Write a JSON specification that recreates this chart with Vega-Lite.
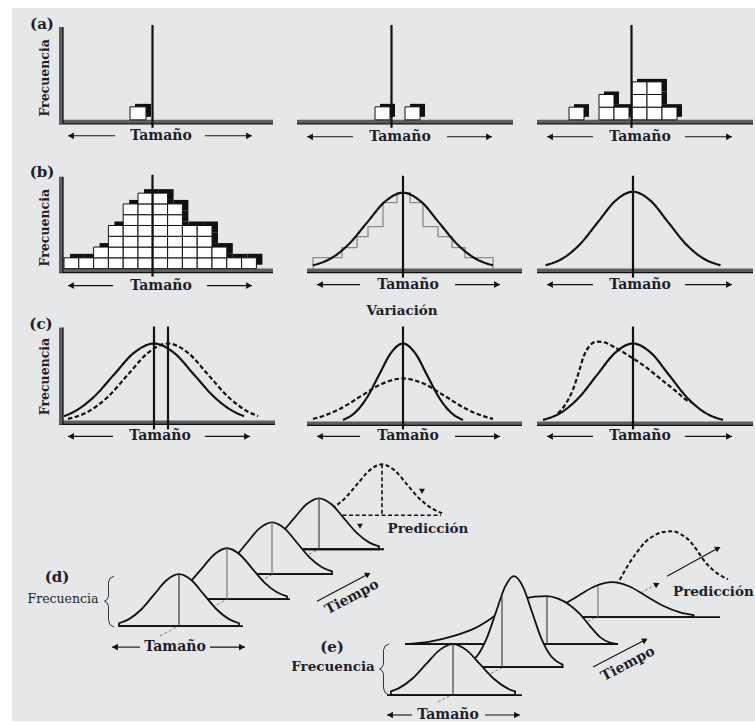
{
"$schema": "https://vega.github.io/schema/vega-lite/v6.json",
"width": 755, "height": 722, "padding": 0,
"autosize": {"type": "fit", "contains": "padding"},
"background": "white",
"config": {"view": {"stroke": null}},
"datasets": {
"bg": [{"x": 12, "y": 8, "x2": 755, "y2": 722}],
"slabs": [{"x":59,"x2":273,"y":122},{"x":297,"x2":513,"y":122},{"x":537,"x2":753,"y":122},
 {"x":59,"x2":273,"y":271},{"x":307,"x2":522,"y":271},{"x":537,"x2":753,"y":271},
 {"x":59,"x2":275,"y":423},{"x":307,"x2":522,"y":424},{"x":537,"x2":753,"y":424}],
"ybars": [{"x":61,"y":27,"y2":124},{"x":61,"y":177,"y2":273},{"x":61,"y":328,"y2":425}],
"centers": [{"x":152.5,"y":25,"y2":128},{"x":391.5,"y":25,"y2":128},{"x":631.5,"y":25,"y2":128},
 {"x":152.5,"y":175,"y2":277},{"x":403,"y":176,"y2":278},{"x":633,"y":176,"y2":278},
 {"x":154,"y":327,"y2":430},{"x":168,"y":327,"y2":430},{"x":403,"y":327,"y2":430},{"x":633,"y":327,"y2":430}],
"cellsA": [{"x":130,"x2":146,"y":107,"y2":120},
 {"x":375,"x2":390,"y":107,"y2":120},{"x":405,"x2":420,"y":107,"y2":120},
 {"x":569,"x2":584,"y":107.3,"y2":120},
 {"x":599,"x2":614,"y":107.3,"y2":120},{"x":599,"x2":614,"y":94.6,"y2":107.3},
 {"x":614,"x2":629,"y":107.3,"y2":120},
 {"x":632,"x2":647,"y":107.3,"y2":120},{"x":632,"x2":647,"y":94.6,"y2":107.3},{"x":632,"x2":647,"y":82,"y2":94.6},
 {"x":647,"x2":662,"y":107.3,"y2":120},{"x":647,"x2":662,"y":94.6,"y2":107.3},{"x":647,"x2":662,"y":82,"y2":94.6},
 {"x":662,"x2":677,"y":107.3,"y2":120}],
"cellsB": [
 {"x":64,"x2":78.8,"y":258.2,"y2":269},
 {"x":78.8,"x2":93.6,"y":258.2,"y2":269},
 {"x":93.6,"x2":108.4,"y":258.2,"y2":269},{"x":93.6,"x2":108.4,"y":247.4,"y2":258.2},
 {"x":108.4,"x2":123.2,"y":258.2,"y2":269},{"x":108.4,"x2":123.2,"y":247.4,"y2":258.2},{"x":108.4,"x2":123.2,"y":236.6,"y2":247.4},{"x":108.4,"x2":123.2,"y":225.8,"y2":236.6},
 {"x":123.2,"x2":138,"y":258.2,"y2":269},{"x":123.2,"x2":138,"y":247.4,"y2":258.2},{"x":123.2,"x2":138,"y":236.6,"y2":247.4},{"x":123.2,"x2":138,"y":225.8,"y2":236.6},{"x":123.2,"x2":138,"y":215,"y2":225.8},{"x":123.2,"x2":138,"y":204.2,"y2":215},
 {"x":138,"x2":152.8,"y":258.2,"y2":269},{"x":138,"x2":152.8,"y":247.4,"y2":258.2},{"x":138,"x2":152.8,"y":236.6,"y2":247.4},{"x":138,"x2":152.8,"y":225.8,"y2":236.6},{"x":138,"x2":152.8,"y":215,"y2":225.8},{"x":138,"x2":152.8,"y":204.2,"y2":215},{"x":138,"x2":152.8,"y":193.4,"y2":204.2},
 {"x":152.8,"x2":167.6,"y":258.2,"y2":269},{"x":152.8,"x2":167.6,"y":247.4,"y2":258.2},{"x":152.8,"x2":167.6,"y":236.6,"y2":247.4},{"x":152.8,"x2":167.6,"y":225.8,"y2":236.6},{"x":152.8,"x2":167.6,"y":215,"y2":225.8},{"x":152.8,"x2":167.6,"y":204.2,"y2":215},{"x":152.8,"x2":167.6,"y":193.4,"y2":204.2},
 {"x":167.6,"x2":182.4,"y":258.2,"y2":269},{"x":167.6,"x2":182.4,"y":247.4,"y2":258.2},{"x":167.6,"x2":182.4,"y":236.6,"y2":247.4},{"x":167.6,"x2":182.4,"y":225.8,"y2":236.6},{"x":167.6,"x2":182.4,"y":215,"y2":225.8},{"x":167.6,"x2":182.4,"y":204.2,"y2":215},
 {"x":182.4,"x2":197.2,"y":258.2,"y2":269},{"x":182.4,"x2":197.2,"y":247.4,"y2":258.2},{"x":182.4,"x2":197.2,"y":236.6,"y2":247.4},{"x":182.4,"x2":197.2,"y":225.8,"y2":236.6},
 {"x":197.2,"x2":212,"y":258.2,"y2":269},{"x":197.2,"x2":212,"y":247.4,"y2":258.2},{"x":197.2,"x2":212,"y":236.6,"y2":247.4},{"x":197.2,"x2":212,"y":225.8,"y2":236.6},
 {"x":212,"x2":226.8,"y":258.2,"y2":269},{"x":212,"x2":226.8,"y":247.4,"y2":258.2},
 {"x":226.8,"x2":241.6,"y":258.2,"y2":269},
 {"x":241.6,"x2":256.4,"y":258.2,"y2":269}],
"steps": [{"i":0,"x":313,"y":269},{"i":1,"x":313,"y":258},{"i":2,"x":342,"y":248},{"i":3,"x":357,"y":237},{"i":4,"x":368,"y":227},{"i":5,"x":383,"y":203},{"i":6,"x":397,"y":193},{"i":7,"x":410,"y":203},{"i":8,"x":423,"y":227},{"i":9,"x":438,"y":237},{"i":10,"x":452,"y":248},{"i":11,"x":465,"y":258},{"i":12,"x":493,"y":258},{"i":13,"x":493,"y":269}],
"lines": [
 {"id":"bm","dash":"solid","x":313,"y":265.7},{"id":"bm","dash":"solid","x":331,"y":258.7},{"id":"bm","dash":"solid","x":349,"y":244.3},{"id":"bm","dash":"solid","x":367,"y":222.9},{"id":"bm","dash":"solid","x":385,"y":201.9},{"id":"bm","dash":"solid","x":403,"y":193},{"id":"bm","dash":"solid","x":421,"y":201.9},{"id":"bm","dash":"solid","x":439,"y":222.9},{"id":"bm","dash":"solid","x":457,"y":244.3},{"id":"bm","dash":"solid","x":475,"y":258.7},{"id":"bm","dash":"solid","x":493,"y":265.7},
 {"id":"br","dash":"solid","x":545.5,"y":265.6},{"id":"br","dash":"solid","x":563,"y":258.6},{"id":"br","dash":"solid","x":580.5,"y":244},{"id":"br","dash":"solid","x":598,"y":222.3},{"id":"br","dash":"solid","x":615.5,"y":201},{"id":"br","dash":"solid","x":633,"y":192},{"id":"br","dash":"solid","x":650.5,"y":201},{"id":"br","dash":"solid","x":668,"y":222.3},{"id":"br","dash":"solid","x":685.5,"y":244},{"id":"br","dash":"solid","x":703,"y":258.6},{"id":"br","dash":"solid","x":720.5,"y":265.6},
 {"id":"cls","dash":"solid","x":64,"y":416.7},{"id":"cls","dash":"solid","x":74,"y":412.3},{"id":"cls","dash":"solid","x":94,"y":397.3},{"id":"cls","dash":"solid","x":114,"y":375.1},{"id":"cls","dash":"solid","x":134,"y":353.3},{"id":"cls","dash":"solid","x":154,"y":344},{"id":"cls","dash":"solid","x":174,"y":353.3},{"id":"cls","dash":"solid","x":194,"y":375.1},{"id":"cls","dash":"solid","x":214,"y":397.3},{"id":"cls","dash":"solid","x":234,"y":412.3},{"id":"cls","dash":"solid","x":244,"y":416.7},
 {"id":"cld","dash":"dash","x":68,"y":419.5},{"id":"cld","dash":"dash","x":88,"y":412.3},{"id":"cld","dash":"dash","x":108,"y":397.3},{"id":"cld","dash":"dash","x":128,"y":375.1},{"id":"cld","dash":"dash","x":148,"y":353.3},{"id":"cld","dash":"dash","x":168,"y":344},{"id":"cld","dash":"dash","x":188,"y":353.3},{"id":"cld","dash":"dash","x":208,"y":375.1},{"id":"cld","dash":"dash","x":228,"y":397.3},{"id":"cld","dash":"dash","x":248,"y":412.3},{"id":"cld","dash":"dash","x":258,"y":416.7},
 {"id":"cms","dash":"solid","x":343,"y":420.5},{"id":"cms","dash":"solid","x":355,"y":413.2},{"id":"cms","dash":"solid","x":367,"y":398},{"id":"cms","dash":"solid","x":379,"y":375.5},{"id":"cms","dash":"solid","x":391,"y":353.4},{"id":"cms","dash":"solid","x":403,"y":344},{"id":"cms","dash":"solid","x":415,"y":353.4},{"id":"cms","dash":"solid","x":427,"y":375.5},{"id":"cms","dash":"solid","x":439,"y":398},{"id":"cms","dash":"solid","x":451,"y":413.2},{"id":"cms","dash":"solid","x":463,"y":420.5},
 {"id":"cmd","dash":"dash","x":313,"y":419.5},{"id":"cmd","dash":"dash","x":319,"y":417.9},{"id":"cmd","dash":"dash","x":340,"y":409.4},{"id":"cmd","dash":"dash","x":361,"y":396.7},{"id":"cmd","dash":"dash","x":382,"y":384.3},{"id":"cmd","dash":"dash","x":403,"y":379},{"id":"cmd","dash":"dash","x":424,"y":384.3},{"id":"cmd","dash":"dash","x":445,"y":396.7},{"id":"cmd","dash":"dash","x":466,"y":409.4},{"id":"cmd","dash":"dash","x":487,"y":417.9},{"id":"cmd","dash":"dash","x":493,"y":419.5},
 {"id":"crs","dash":"solid","x":543,"y":420.5},{"id":"crs","dash":"solid","x":561,"y":413.2},{"id":"crs","dash":"solid","x":579,"y":398},{"id":"crs","dash":"solid","x":597,"y":375.5},{"id":"crs","dash":"solid","x":615,"y":353.4},{"id":"crs","dash":"solid","x":633,"y":344},{"id":"crs","dash":"solid","x":651,"y":353.4},{"id":"crs","dash":"solid","x":669,"y":375.5},{"id":"crs","dash":"solid","x":687,"y":398},{"id":"crs","dash":"solid","x":705,"y":413.2},{"id":"crs","dash":"solid","x":723,"y":420.5},
 {"id":"crd","dash":"dash","x":558,"y":414},{"id":"crd","dash":"dash","x":566,"y":404},{"id":"crd","dash":"dash","x":573,"y":390},{"id":"crd","dash":"dash","x":579,"y":372},{"id":"crd","dash":"dash","x":584,"y":356},{"id":"crd","dash":"dash","x":590,"y":346},{"id":"crd","dash":"dash","x":597,"y":342},{"id":"crd","dash":"dash","x":605,"y":343},{"id":"crd","dash":"dash","x":615,"y":348},{"id":"crd","dash":"dash","x":630,"y":357},{"id":"crd","dash":"dash","x":645,"y":367},{"id":"crd","dash":"dash","x":660,"y":379},{"id":"crd","dash":"dash","x":675,"y":391},{"id":"crd","dash":"dash","x":688,"y":401.5},{"id":"crd","dash":"dash","x":692,"y":403}],
"fills": [
 {"id":"d1","y0":627,"x":119,"y":624.1},{"id":"d1","y0":627,"x":129,"y":620},{"id":"d1","y0":627,"x":141.5,"y":610.1},{"id":"d1","y0":627,"x":154,"y":595.5},{"id":"d1","y0":627,"x":166.5,"y":581.1},{"id":"d1","y0":627,"x":179,"y":575},{"id":"d1","y0":627,"x":191.5,"y":581.1},{"id":"d1","y0":627,"x":204,"y":595.5},{"id":"d1","y0":627,"x":216.5,"y":610.1},{"id":"d1","y0":627,"x":229,"y":620},{"id":"d1","y0":627,"x":239,"y":624.1},
 {"id":"d2","y0":600,"x":167,"y":597.1},{"id":"d2","y0":600,"x":177,"y":593.1},{"id":"d2","y0":600,"x":189.5,"y":583.4},{"id":"d2","y0":600,"x":202,"y":569.1},{"id":"d2","y0":600,"x":214.5,"y":555},{"id":"d2","y0":600,"x":227,"y":549},{"id":"d2","y0":600,"x":239.5,"y":555},{"id":"d2","y0":600,"x":252,"y":569.1},{"id":"d2","y0":600,"x":264.5,"y":583.4},{"id":"d2","y0":600,"x":277,"y":593.1},{"id":"d2","y0":600,"x":287,"y":597.1},
 {"id":"d3","y0":575,"x":212,"y":572.1},{"id":"d3","y0":575,"x":222,"y":568},{"id":"d3","y0":575,"x":234.5,"y":558.1},{"id":"d3","y0":575,"x":247,"y":543.5},{"id":"d3","y0":575,"x":259.5,"y":529.1},{"id":"d3","y0":575,"x":272,"y":523},{"id":"d3","y0":575,"x":284.5,"y":529.1},{"id":"d3","y0":575,"x":297,"y":543.5},{"id":"d3","y0":575,"x":309.5,"y":558.1},{"id":"d3","y0":575,"x":322,"y":568},{"id":"d3","y0":575,"x":332,"y":572.1},
 {"id":"d4","y0":550,"x":259,"y":547.1},{"id":"d4","y0":550,"x":269,"y":543.1},{"id":"d4","y0":550,"x":281.5,"y":533.4},{"id":"d4","y0":550,"x":294,"y":519.1},{"id":"d4","y0":550,"x":306.5,"y":505},{"id":"d4","y0":550,"x":319,"y":499},{"id":"d4","y0":550,"x":331.5,"y":505},{"id":"d4","y0":550,"x":344,"y":519.1},{"id":"d4","y0":550,"x":356.5,"y":533.4},{"id":"d4","y0":550,"x":369,"y":543.1},{"id":"d4","y0":550,"x":379,"y":547.1},
 {"id":"e1","y0":696,"x":390.9,"y":692.4},{"id":"e1","y0":696,"x":399,"y":689.1},{"id":"e1","y0":696,"x":412.5,"y":679.4},{"id":"e1","y0":696,"x":426,"y":665.1},{"id":"e1","y0":696,"x":439.5,"y":651},{"id":"e1","y0":696,"x":453,"y":645},{"id":"e1","y0":696,"x":466.5,"y":651},{"id":"e1","y0":696,"x":480,"y":665.1},{"id":"e1","y0":696,"x":493.5,"y":679.4},{"id":"e1","y0":696,"x":507,"y":689.1},{"id":"e1","y0":696,"x":515.1,"y":692.4},
 {"id":"e2","y0":668,"x":465.4,"y":665.6},{"id":"e2","y0":668,"x":478,"y":655.7},{"id":"e2","y0":668,"x":487,"y":638.5},{"id":"e2","y0":668,"x":496,"y":612.8},{"id":"e2","y0":668,"x":505,"y":587.7},{"id":"e2","y0":668,"x":514,"y":577},{"id":"e2","y0":668,"x":523,"y":587.7},{"id":"e2","y0":668,"x":532,"y":612.8},{"id":"e2","y0":668,"x":541,"y":638.5},{"id":"e2","y0":668,"x":550,"y":655.7},{"id":"e2","y0":668,"x":562.6,"y":665.6},
 {"id":"e3","y0":645,"x":405,"y":645},{"id":"e3","y0":645,"x":430,"y":642.5},{"id":"e3","y0":645,"x":453,"y":637},{"id":"e3","y0":645,"x":475,"y":629},{"id":"e3","y0":645,"x":490,"y":620},{"id":"e3","y0":645,"x":505,"y":609},{"id":"e3","y0":645,"x":520,"y":601},{"id":"e3","y0":645,"x":535,"y":597.5},{"id":"e3","y0":645,"x":547,"y":597},{"id":"e3","y0":645,"x":558,"y":599.5},{"id":"e3","y0":645,"x":570,"y":606},{"id":"e3","y0":645,"x":580,"y":615},{"id":"e3","y0":645,"x":590,"y":627},{"id":"e3","y0":645,"x":600,"y":638},{"id":"e3","y0":645,"x":610,"y":643.5},{"id":"e3","y0":645,"x":618,"y":645},
 {"id":"e4","y0":618,"x":530.4,"y":616},{"id":"e4","y0":618,"x":544,"y":613.3},{"id":"e4","y0":618,"x":561,"y":606.6},{"id":"e4","y0":618,"x":578,"y":596.8},{"id":"e4","y0":618,"x":595,"y":587.1},{"id":"e4","y0":618,"x":612,"y":583},{"id":"e4","y0":618,"x":629,"y":587.1},{"id":"e4","y0":618,"x":646,"y":596.8},{"id":"e4","y0":618,"x":663,"y":606.6},{"id":"e4","y0":618,"x":680,"y":613.3},{"id":"e4","y0":618,"x":693.6,"y":616}],
"preds": [
 {"id":"pd","x":332,"y":509.1},{"id":"pd","x":344.5,"y":499.4},{"id":"pd","x":357,"y":485.1},{"id":"pd","x":369.5,"y":471},{"id":"pd","x":382,"y":465},{"id":"pd","x":394.5,"y":471},{"id":"pd","x":407,"y":485.1},{"id":"pd","x":419.5,"y":499.4},{"id":"pd","x":432,"y":509.1},{"id":"pd","x":442,"y":514},
 {"id":"pe","x":616,"y":586},{"id":"pe","x":620,"y":580},{"id":"pe","x":628,"y":566},{"id":"pe","x":637,"y":553},{"id":"pe","x":645,"y":543},{"id":"pe","x":653,"y":537},{"id":"pe","x":662,"y":533},{"id":"pe","x":672,"y":532},{"id":"pe","x":681,"y":535},{"id":"pe","x":690,"y":542},{"id":"pe","x":697,"y":551},{"id":"pe","x":703,"y":560},{"id":"pe","x":710,"y":568},{"id":"pe","x":717,"y":574},{"id":"pe","x":728,"y":580}],
"pfloor": [{"x":336,"x2":441,"y":516,"y2":516},{"x":382,"x2":382,"y":465,"y2":516}],
"bfloor": [{"id":"d1","x":120,"x2":243,"y":627},{"id":"d2","x":165,"x2":290,"y":600},{"id":"d3","x":210,"x2":333,"y":575},{"id":"d4","x":256,"x2":384,"y":550},
 {"id":"e1","x":387,"x2":522,"y":696},{"id":"e2","x":455,"x2":563,"y":668},{"id":"e3","x":405,"x2":618,"y":645},{"id":"e4","x":540,"x2":720,"y":618}],
"bcenter": [{"id":"d1","x":179,"y":575,"y2":627},{"id":"d2","x":227,"y":549,"y2":600},{"id":"d3","x":272,"y":523,"y2":575},{"id":"d4","x":319,"y":499,"y2":550},
 {"id":"e1","x":453,"y":645,"y2":696},{"id":"e2","x":502,"y":595,"y2":668},{"id":"e3","x":547,"y":597,"y2":645},{"id":"e4","x":598,"y":587,"y2":618}],
"diag": [{"x":160,"y":637,"x2":340,"y2":538},{"x":438,"y":703,"x2":655,"y2":586}],
"shafts": [
 {"x":68,"x2":115,"y":136,"y2":136},{"x":205,"x2":252,"y":136,"y2":136},{"x":307,"x2":353,"y":137,"y2":137},{"x":447,"x2":492,"y":137,"y2":137},{"x":547,"x2":593,"y":137,"y2":137},{"x":685,"x2":732,"y":137,"y2":137},
 {"x":68,"x2":113,"y":286,"y2":286},{"x":207,"x2":252,"y":286,"y2":286},{"x":317,"x2":360,"y":285,"y2":285},{"x":455,"x2":500,"y":285,"y2":285},{"x":547,"x2":593,"y":285,"y2":285},{"x":685,"x2":732,"y":285,"y2":285},
 {"x":68,"x2":113,"y":437,"y2":437},{"x":205,"x2":250,"y":437,"y2":437},{"x":317,"x2":360,"y":437,"y2":437},{"x":455,"x2":500,"y":437,"y2":437},{"x":547,"x2":593,"y":437,"y2":437},{"x":685,"x2":732,"y":437,"y2":437},
 {"x":112,"x2":140,"y":648,"y2":648},{"x":210,"x2":245,"y":648,"y2":648},
 {"x":387,"x2":412,"y":716,"y2":716},{"x":485,"x2":520,"y":716,"y2":716},
 {"x":317,"x2":366,"y":602,"y2":576},{"x":593,"x2":643,"y":668,"y2":642},{"x":667,"x2":716,"y":577,"y2":550}],
"heads": [
 {"k":"L","x":71,"y":136},{"k":"L","x":310,"y":137},{"k":"L","x":550,"y":137},{"k":"L","x":71,"y":286},{"k":"L","x":320,"y":285},{"k":"L","x":550,"y":285},{"k":"L","x":71,"y":437},{"k":"L","x":320,"y":437},{"k":"L","x":550,"y":437},{"k":"L","x":115,"y":648},{"k":"L","x":390,"y":716},
 {"k":"R","x":249,"y":136},{"k":"R","x":489,"y":137},{"k":"R","x":729,"y":137},{"k":"R","x":249,"y":286},{"k":"R","x":497,"y":285},{"k":"R","x":729,"y":285},{"k":"R","x":247,"y":437},{"k":"R","x":497,"y":437},{"k":"R","x":729,"y":437},{"k":"R","x":242,"y":648},{"k":"R","x":517,"y":716},
 {"k":"T","x":368,"y":575},{"k":"T","x":645,"y":641},{"k":"T","x":718,"y":549},{"k":"T","x":657,"y":585},
 {"k":"D","x":360,"y":527},{"k":"D","x":422,"y":492}],
"brace": [
 {"id":"bd","i":0,"x":114,"y":577},{"id":"bd","i":1,"x":110,"y":579},{"id":"bd","i":2,"x":108.5,"y":583},{"id":"bd","i":3,"x":108.5,"y":597},{"id":"bd","i":4,"x":107,"y":600.5},{"id":"bd","i":5,"x":104.5,"y":602},{"id":"bd","i":6,"x":107,"y":603.5},{"id":"bd","i":7,"x":108.5,"y":607},{"id":"bd","i":8,"x":108.5,"y":621},{"id":"bd","i":9,"x":110,"y":625.5},{"id":"bd","i":10,"x":114,"y":628},
 {"id":"be","i":0,"x":389,"y":645},{"id":"be","i":1,"x":385,"y":647},{"id":"be","i":2,"x":383.5,"y":651},{"id":"be","i":3,"x":383.5,"y":665},{"id":"be","i":4,"x":382,"y":668.5},{"id":"be","i":5,"x":379.5,"y":670},{"id":"be","i":6,"x":382,"y":671.5},{"id":"be","i":7,"x":383.5,"y":675},{"id":"be","i":8,"x":383.5,"y":689},{"id":"be","i":9,"x":385,"y":693.5},{"id":"be","i":10,"x":389,"y":696}],
"labels": [
 {"k":"p","t":"(a)","x":42,"y":24},{"k":"p","t":"(b)","x":42,"y":172},{"k":"p","t":"(c)","x":41,"y":324},{"k":"p","t":"(d)","x":57,"y":578},{"k":"p","t":"(e)","x":332,"y":648},
 {"k":"tam","t":"Tamaño","x":161,"y":136},{"k":"tam","t":"Tamaño","x":400,"y":137},{"k":"tam","t":"Tamaño","x":640,"y":137},
 {"k":"tam","t":"Tamaño","x":161,"y":286},{"k":"tam","t":"Tamaño","x":408,"y":285},{"k":"tam","t":"Tamaño","x":640,"y":285},
 {"k":"tam","t":"Tamaño","x":160,"y":437},{"k":"tam","t":"Tamaño","x":408,"y":437},{"k":"tam","t":"Tamaño","x":640,"y":437},
 {"k":"tam","t":"Tamaño","x":175,"y":648},{"k":"tam","t":"Tamaño","x":448,"y":716},
 {"k":"fv","t":"Frecuencia","x":45,"y":78},{"k":"fv","t":"Frecuencia","x":45,"y":228},{"k":"fv","t":"Frecuencia","x":45,"y":377},
 {"k":"var","t":"Variación","x":402,"y":311},
 {"k":"fd","t":"Frecuencia","x":63,"y":600},
 {"k":"fe","t":"Frecuencia","x":333,"y":668},
 {"k":"tie","t":"Tiempo","x":352,"y":598},{"k":"tie","t":"Tiempo","x":628,"y":665},
 {"k":"pre","t":"Predicción","x":428,"y":530},
 {"k":"pre2","t":"Predicción","x":673,"y":593}]
},
"encoding": {
 "x": {"field": "x", "type": "quantitative", "scale": {"domain": [0, 755], "nice": false, "zero": false}, "axis": null},
 "y": {"field": "y", "type": "quantitative", "scale": {"domain": [0, 722], "nice": false, "zero": false, "reverse": true}, "axis": null}
},
"layer": [
 {"data": {"name": "bg"}, "mark": {"type": "rect", "fill": "#e6e7e9"}, "encoding": {"x2": {"field": "x2"}, "y2": {"field": "y2"}}},
 {"data": {"name": "diag"}, "mark": {"type": "rule", "color": "#7a7a7a", "strokeWidth": 1, "strokeDash": [3, 2]}, "encoding": {"x2": {"field": "x2"}, "y2": {"field": "y2"}}},
 {"data": {"name": "slabs"}, "mark": {"type": "rule", "color": "#5e5e5e", "strokeWidth": 4}, "encoding": {"x2": {"field": "x2"}}},
 {"data": {"name": "slabs"}, "mark": {"type": "rule", "color": "#111", "strokeWidth": 1.3, "yOffset": 2}, "encoding": {"x2": {"field": "x2"}}},
 {"data": {"name": "ybars"}, "mark": {"type": "rule", "color": "#5e5e5e", "strokeWidth": 4}, "encoding": {"y2": {"field": "y2"}}},
 {"data": {"name": "ybars"}, "mark": {"type": "rule", "color": "#111", "strokeWidth": 1.3, "xOffset": 2}, "encoding": {"y2": {"field": "y2"}}},
 {"data": {"name": "cellsA"}, "mark": {"type": "rect", "fill": "#111", "xOffset": 5, "x2Offset": 5, "yOffset": -3, "y2Offset": -3}, "encoding": {"x2": {"field": "x2"}, "y2": {"field": "y2"}}},
 {"data": {"name": "cellsA"}, "mark": {"type": "rect", "fill": "white", "stroke": "#111", "strokeWidth": 1}, "encoding": {"x2": {"field": "x2"}, "y2": {"field": "y2"}}},
 {"data": {"name": "cellsB"}, "mark": {"type": "rect", "fill": "#111", "xOffset": 6, "x2Offset": 6, "yOffset": -4, "y2Offset": -4}, "encoding": {"x2": {"field": "x2"}, "y2": {"field": "y2"}}},
 {"data": {"name": "cellsB"}, "mark": {"type": "rect", "fill": "white", "stroke": "#111", "strokeWidth": 1}, "encoding": {"x2": {"field": "x2"}, "y2": {"field": "y2"}}},
 {"data": {"name": "steps"}, "mark": {"type": "line", "interpolate": "step-after", "color": "#8a8a8a", "strokeWidth": 1.3}, "encoding": {"order": {"field": "i"}}},
 {"data": {"name": "lines"}, "mark": {"type": "line", "interpolate": "monotone", "color": "#111", "strokeWidth": 2.2},
  "encoding": {"detail": {"field": "id"}, "strokeDash": {"field": "dash", "type": "nominal", "scale": {"domain": ["solid", "dash"], "range": [[1, 0], [4.5, 2.5]]}, "legend": null}}},
 {"data": {"name": "centers"}, "mark": {"type": "rule", "color": "#111", "strokeWidth": 2.2}, "encoding": {"y2": {"field": "y2"}}},

 {"data": {"name": "preds"}, "transform": [{"filter": "datum.id === 'pd'"}], "mark": {"type": "line", "interpolate": "monotone", "color": "#111", "strokeWidth": 2, "strokeDash": [4, 2.5]}},
 {"data": {"name": "pfloor"}, "mark": {"type": "rule", "color": "#111", "strokeWidth": 1.6, "strokeDash": [4, 2.5]}, "encoding": {"x2": {"field": "x2"}, "y2": {"field": "y2"}}},

 {"data": {"name": "fills"}, "transform": [{"filter": "datum.id === 'd4'"}], "mark": {"type": "area", "interpolate": "monotone", "fill": "#e6e7e9", "stroke": "#111", "strokeWidth": 1.8}, "encoding": {"y2": {"field": "y0"}}},
 {"data": {"name": "bfloor"}, "transform": [{"filter": "datum.id === 'd4'"}], "mark": {"type": "rule", "color": "#111", "strokeWidth": 1.8}, "encoding": {"x2": {"field": "x2"}}},
 {"data": {"name": "bcenter"}, "transform": [{"filter": "datum.id === 'd4'"}], "mark": {"type": "rule", "color": "#444", "strokeWidth": 1.2}, "encoding": {"y2": {"field": "y2"}}},
 {"data": {"name": "fills"}, "transform": [{"filter": "datum.id === 'd3'"}], "mark": {"type": "area", "interpolate": "monotone", "fill": "#e6e7e9", "stroke": "#111", "strokeWidth": 1.8}, "encoding": {"y2": {"field": "y0"}}},
 {"data": {"name": "bfloor"}, "transform": [{"filter": "datum.id === 'd3'"}], "mark": {"type": "rule", "color": "#111", "strokeWidth": 1.8}, "encoding": {"x2": {"field": "x2"}}},
 {"data": {"name": "bcenter"}, "transform": [{"filter": "datum.id === 'd3'"}], "mark": {"type": "rule", "color": "#777", "strokeWidth": 1.2}, "encoding": {"y2": {"field": "y2"}}},
 {"data": {"name": "fills"}, "transform": [{"filter": "datum.id === 'd2'"}], "mark": {"type": "area", "interpolate": "monotone", "fill": "#e6e7e9", "stroke": "#111", "strokeWidth": 1.8}, "encoding": {"y2": {"field": "y0"}}},
 {"data": {"name": "bfloor"}, "transform": [{"filter": "datum.id === 'd2'"}], "mark": {"type": "rule", "color": "#111", "strokeWidth": 1.8}, "encoding": {"x2": {"field": "x2"}}},
 {"data": {"name": "bcenter"}, "transform": [{"filter": "datum.id === 'd2'"}], "mark": {"type": "rule", "color": "#777", "strokeWidth": 1.2}, "encoding": {"y2": {"field": "y2"}}},
 {"data": {"name": "fills"}, "transform": [{"filter": "datum.id === 'd1'"}], "mark": {"type": "area", "interpolate": "monotone", "fill": "#e6e7e9", "stroke": "#111", "strokeWidth": 1.8}, "encoding": {"y2": {"field": "y0"}}},
 {"data": {"name": "bfloor"}, "transform": [{"filter": "datum.id === 'd1'"}], "mark": {"type": "rule", "color": "#111", "strokeWidth": 1.8}, "encoding": {"x2": {"field": "x2"}}},
 {"data": {"name": "bcenter"}, "transform": [{"filter": "datum.id === 'd1'"}], "mark": {"type": "rule", "color": "#333", "strokeWidth": 1.2}, "encoding": {"y2": {"field": "y2"}}},

 {"data": {"name": "preds"}, "transform": [{"filter": "datum.id === 'pe'"}], "mark": {"type": "line", "interpolate": "monotone", "color": "#111", "strokeWidth": 2, "strokeDash": [4, 2.5]}},
 {"data": {"name": "fills"}, "transform": [{"filter": "datum.id === 'e4'"}], "mark": {"type": "area", "interpolate": "monotone", "fill": "#e6e7e9", "stroke": "#111", "strokeWidth": 1.8}, "encoding": {"y2": {"field": "y0"}}},
 {"data": {"name": "bfloor"}, "transform": [{"filter": "datum.id === 'e4'"}], "mark": {"type": "rule", "color": "#111", "strokeWidth": 1.8}, "encoding": {"x2": {"field": "x2"}}},
 {"data": {"name": "bcenter"}, "transform": [{"filter": "datum.id === 'e4'"}], "mark": {"type": "rule", "color": "#777", "strokeWidth": 1.2}, "encoding": {"y2": {"field": "y2"}}},
 {"data": {"name": "fills"}, "transform": [{"filter": "datum.id === 'e3'"}], "mark": {"type": "area", "interpolate": "monotone", "fill": "#e6e7e9", "stroke": "#111", "strokeWidth": 1.8}, "encoding": {"y2": {"field": "y0"}}},
 {"data": {"name": "bfloor"}, "transform": [{"filter": "datum.id === 'e3'"}], "mark": {"type": "rule", "color": "#111", "strokeWidth": 1.8}, "encoding": {"x2": {"field": "x2"}}},
 {"data": {"name": "bcenter"}, "transform": [{"filter": "datum.id === 'e3'"}], "mark": {"type": "rule", "color": "#444", "strokeWidth": 1.2}, "encoding": {"y2": {"field": "y2"}}},
 {"data": {"name": "fills"}, "transform": [{"filter": "datum.id === 'e2'"}], "mark": {"type": "area", "interpolate": "monotone", "fill": "#e6e7e9", "stroke": "#111", "strokeWidth": 1.8}, "encoding": {"y2": {"field": "y0"}}},
 {"data": {"name": "bfloor"}, "transform": [{"filter": "datum.id === 'e2'"}], "mark": {"type": "rule", "color": "#111", "strokeWidth": 1.8}, "encoding": {"x2": {"field": "x2"}}},
 {"data": {"name": "bcenter"}, "transform": [{"filter": "datum.id === 'e2'"}], "mark": {"type": "rule", "color": "#444", "strokeWidth": 1.2}, "encoding": {"y2": {"field": "y2"}}},
 {"data": {"name": "fills"}, "transform": [{"filter": "datum.id === 'e1'"}], "mark": {"type": "area", "interpolate": "monotone", "fill": "#e6e7e9", "stroke": "#111", "strokeWidth": 1.8}, "encoding": {"y2": {"field": "y0"}}},
 {"data": {"name": "bfloor"}, "transform": [{"filter": "datum.id === 'e1'"}], "mark": {"type": "rule", "color": "#111", "strokeWidth": 1.8}, "encoding": {"x2": {"field": "x2"}}},
 {"data": {"name": "bcenter"}, "transform": [{"filter": "datum.id === 'e1'"}], "mark": {"type": "rule", "color": "#444", "strokeWidth": 1.2}, "encoding": {"y2": {"field": "y2"}}},

 {"data": {"name": "shafts"}, "mark": {"type": "rule", "color": "#111", "strokeWidth": 1.1}, "encoding": {"x2": {"field": "x2"}, "y2": {"field": "y2"}}},
 {"data": {"name": "heads"}, "transform": [{"filter": "datum.k === 'L'"}], "mark": {"type": "point", "shape": "triangle-left", "filled": true, "color": "#111", "size": 45, "opacity": 1}},
 {"data": {"name": "heads"}, "transform": [{"filter": "datum.k === 'R'"}], "mark": {"type": "point", "shape": "triangle-right", "filled": true, "color": "#111", "size": 45, "opacity": 1}},
 {"data": {"name": "heads"}, "transform": [{"filter": "datum.k === 'T'"}], "mark": {"type": "point", "shape": "triangle-right", "angle": -28, "filled": true, "color": "#111", "size": 40, "opacity": 1}},
 {"data": {"name": "heads"}, "transform": [{"filter": "datum.k === 'D'"}], "mark": {"type": "point", "shape": "triangle-down", "filled": true, "color": "#111", "size": 35, "opacity": 1}},
 {"data": {"name": "brace"}, "mark": {"type": "line", "color": "#333", "strokeWidth": 1}, "encoding": {"detail": {"field": "id"}, "order": {"field": "i"}}},

 {"data": {"name": "labels"}, "transform": [{"filter": "datum.k === 'p'"}], "mark": {"type": "text", "font": "DejaVu Serif", "fontWeight": "bold", "fontSize": 15, "color": "#1e1e28", "align": "center", "baseline": "middle"}, "encoding": {"text": {"field": "t"}}},
 {"data": {"name": "labels"}, "transform": [{"filter": "datum.k === 'tam'"}], "mark": {"type": "text", "font": "DejaVu Serif", "fontWeight": "bold", "fontSize": 14, "color": "#1e1e28", "align": "center", "baseline": "middle"}, "encoding": {"text": {"field": "t"}}},
 {"data": {"name": "labels"}, "transform": [{"filter": "datum.k === 'fv'"}], "mark": {"type": "text", "font": "DejaVu Serif", "fontWeight": "bold", "fontSize": 12.5, "angle": 270, "color": "#1e1e28", "align": "center", "baseline": "middle"}, "encoding": {"text": {"field": "t"}}},
 {"data": {"name": "labels"}, "transform": [{"filter": "datum.k === 'var' || datum.k === 'pre' || datum.k === 'fe'"}], "mark": {"type": "text", "font": "DejaVu Serif", "fontWeight": "bold", "fontSize": 13.5, "color": "#1e1e28", "align": "center", "baseline": "middle"}, "encoding": {"text": {"field": "t"}}},
 {"data": {"name": "labels"}, "transform": [{"filter": "datum.k === 'pre2'"}], "mark": {"type": "text", "font": "DejaVu Serif", "fontWeight": "bold", "fontSize": 13.5, "color": "#1e1e28", "align": "left", "baseline": "middle"}, "encoding": {"text": {"field": "t"}}},
 {"data": {"name": "labels"}, "transform": [{"filter": "datum.k === 'fd'"}], "mark": {"type": "text", "font": "DejaVu Serif", "fontSize": 12.5, "color": "#1e1e28", "align": "center", "baseline": "middle"}, "encoding": {"text": {"field": "t"}}},
 {"data": {"name": "labels"}, "transform": [{"filter": "datum.k === 'tie'"}], "mark": {"type": "text", "font": "DejaVu Serif", "fontWeight": "bold", "fontSize": 14, "angle": -28, "color": "#1e1e28", "align": "center", "baseline": "middle"}, "encoding": {"text": {"field": "t"}}}
]
}
